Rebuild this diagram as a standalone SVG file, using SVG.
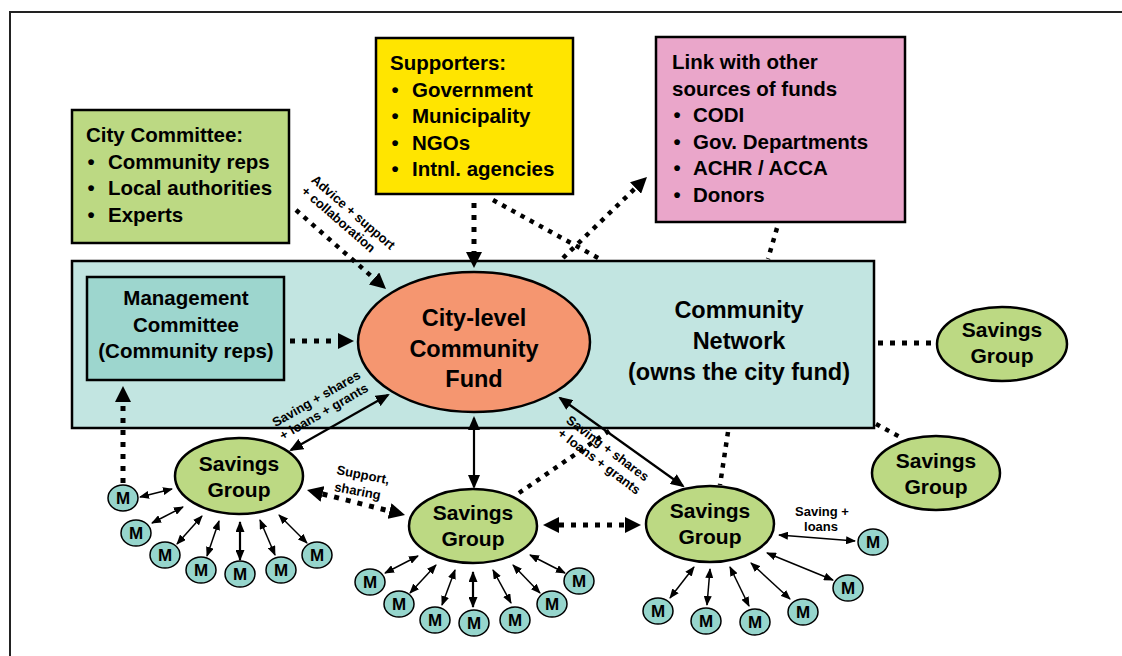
<svg xmlns="http://www.w3.org/2000/svg" width="1122" height="656" viewBox="0 0 1122 656">
<style>
text{font-family:"Liberation Sans",Arial,sans-serif;font-weight:bold;fill:#000}
.b{font-size:20.5px}
.sg{font-size:21px;text-anchor:middle}
.big{font-size:23.5px;text-anchor:middle}
.m{font-size:17px;text-anchor:middle}
.lb{font-size:13px}
.c{text-anchor:middle}
.bx{stroke:#000;stroke-width:2.5}
.green{fill:#bcd983}
.mm{fill:#96d5cc;stroke:#000;stroke-width:1.5}
.dot{fill:none;stroke:#000;stroke-width:5;stroke-dasharray:5 7}
.dot2{fill:none;stroke:#000;stroke-width:4.5;stroke-dasharray:4.5 6}
.sol{stroke:#000;stroke-width:2.2;fill:none}
.thin{stroke:#000;stroke-width:1.5;fill:none}
</style>
<defs>
<marker id="ad" viewBox="0 0 16 16" markerWidth="16" markerHeight="16" refX="0" refY="8" orient="auto-start-reverse" markerUnits="userSpaceOnUse"><path d="M0,0L16,8L0,16z"/></marker>
<marker id="as" viewBox="0 0 14 12" markerWidth="14" markerHeight="12" refX="12" refY="6" orient="auto-start-reverse" markerUnits="userSpaceOnUse"><path d="M0,0L14,6L0,12z"/></marker>
<marker id="am" viewBox="0 0 10 8" markerWidth="10" markerHeight="8" refX="9" refY="4" orient="auto-start-reverse" markerUnits="userSpaceOnUse"><path d="M0,0L10,4L0,8z"/></marker>
<marker id="am2" viewBox="0 0 11 9" markerWidth="11" markerHeight="9" refX="10" refY="4.5" orient="auto-start-reverse" markerUnits="userSpaceOnUse"><path d="M0,0L11,4.5L0,9z"/></marker>
</defs>
<rect width="1122" height="656" fill="#fff"/>
<path d="M10,656V12H1122" fill="none" stroke="#222" stroke-width="2"/>

<g id="community-network">
<rect x="72" y="261" width="802" height="167" fill="#c2e5e1" class="bx"/>
<text class="big" x="739" y="318">Community</text>
<text class="big" x="739" y="349">Network</text>
<text class="big" x="739" y="380">(owns the city fund)</text>
</g>

<g id="connectors">
<line class="dot2" x1="296" y1="210" x2="374" y2="278.5" marker-end="url(#ad)"/>
<line class="dot" x1="474" y1="203" x2="474" y2="252" marker-end="url(#ad)"/>
<line class="dot2" x1="493" y1="200" x2="600" y2="259"/>
<line class="dot2" x1="563" y1="258" x2="635.5" y2="188" marker-end="url(#ad)"/>
<line class="dot2" x1="777" y1="228" x2="768" y2="259"/>
<line class="dot" x1="290" y1="341" x2="338" y2="341" marker-end="url(#ad)"/>
<line class="dot" x1="123" y1="483" x2="123" y2="402" marker-end="url(#ad)"/>
<line class="dot" x1="878" y1="343" x2="936" y2="343"/>
<line class="dot2" x1="876" y1="424" x2="900" y2="437"/>
<line class="dot2" x1="728" y1="432" x2="720" y2="485"/>
<line class="dot2" x1="519" y1="493" x2="612" y2="429"/>
<line class="dot" x1="322.5" y1="494" x2="389.5" y2="511" marker-start="url(#ad)" marker-end="url(#ad)"/>
<line class="dot" x1="559" y1="525" x2="625" y2="525" marker-start="url(#ad)" marker-end="url(#ad)"/>
<line class="sol" x1="388" y1="395" x2="291" y2="450" marker-start="url(#as)" marker-end="url(#as)"/>
<line class="sol" x1="474" y1="418" x2="474" y2="487" marker-start="url(#as)" marker-end="url(#as)"/>
<line class="sol" x1="560" y1="398" x2="683" y2="486" marker-start="url(#as)" marker-end="url(#as)"/>
<line class="thin" x1="140" y1="497" x2="172" y2="489" marker-start="url(#am)" marker-end="url(#am)"/>
<line class="thin" x1="152" y1="523" x2="183" y2="507" marker-start="url(#am)" marker-end="url(#am)"/>
<line class="thin" x1="177" y1="544" x2="202" y2="516" marker-start="url(#am)" marker-end="url(#am)"/>
<line class="thin" x1="207" y1="556" x2="219" y2="521" marker-start="url(#am)" marker-end="url(#am)"/>
<line class="sol" x1="240" y1="560" x2="240" y2="522" marker-start="url(#am2)" marker-end="url(#am2)"/>
<line class="thin" x1="275" y1="555" x2="260" y2="520" marker-start="url(#am)" marker-end="url(#am)"/>
<line class="thin" x1="307" y1="543" x2="279" y2="515" marker-start="url(#am)" marker-end="url(#am)"/>
<line class="thin" x1="385" y1="573" x2="418" y2="556" marker-start="url(#am)" marker-end="url(#am)"/>
<line class="thin" x1="410" y1="593" x2="436" y2="565" marker-start="url(#am)" marker-end="url(#am)"/>
<line class="thin" x1="442" y1="605" x2="455" y2="570" marker-start="url(#am)" marker-end="url(#am)"/>
<line class="sol" x1="473" y1="607" x2="473" y2="572" marker-start="url(#am2)" marker-end="url(#am2)"/>
<line class="thin" x1="511" y1="603" x2="493" y2="570" marker-start="url(#am)" marker-end="url(#am)"/>
<line class="thin" x1="540" y1="593" x2="513" y2="565" marker-start="url(#am)" marker-end="url(#am)"/>
<line class="thin" x1="565" y1="573" x2="530" y2="555" marker-start="url(#am)" marker-end="url(#am)"/>
<line class="thin" x1="670" y1="598" x2="694" y2="567" marker-start="url(#am)" marker-end="url(#am)"/>
<line class="thin" x1="707" y1="605" x2="710" y2="569" marker-start="url(#am)" marker-end="url(#am)"/>
<line class="thin" x1="749" y1="606" x2="730" y2="567" marker-start="url(#am)" marker-end="url(#am)"/>
<line class="thin" x1="790" y1="599" x2="751" y2="563" marker-start="url(#am)" marker-end="url(#am)"/>
<line class="thin" x1="833" y1="580" x2="767" y2="553" marker-start="url(#am)" marker-end="url(#am)"/>
<line class="thin" x1="779" y1="535" x2="855" y2="541" marker-start="url(#am)" marker-end="url(#am)"/>
<text class="lb" transform="translate(310.4,181) rotate(41)"><tspan x="0" y="0">Advice + support</tspan><tspan x="0" y="15">+ collaboration</tspan></text>
<text class="lb c" transform="translate(318.5,402.5) rotate(-30)"><tspan x="0" y="0">Saving + shares</tspan><tspan x="0" y="15">+ loans + grants</tspan></text>
<text class="lb c" transform="translate(605,452) rotate(37)"><tspan x="0" y="0">Saving + shares</tspan><tspan x="1" y="15.5">+ loans + grants</tspan></text>
<text class="lb" transform="translate(336,474) rotate(11)"><tspan x="0" y="0">Support,</tspan><tspan x="1" y="17">sharing</tspan></text>
<text class="lb c" x="822" y="516">Saving +</text>
<text class="lb c" x="821" y="531">loans</text>
</g>

<g id="city-committee">
<rect x="72" y="110" width="217" height="133" class="bx green"/>
<text class="b" x="86" y="142">City Committee:</text>
<text class="b" x="87.4" y="168.5">•<tspan x="108">Community reps</tspan></text>
<text class="b" x="87.4" y="195">•<tspan x="108">Local authorities</tspan></text>
<text class="b" x="87.4" y="221.5">•<tspan x="108">Experts</tspan></text>
</g>

<g id="supporters">
<rect x="376" y="38" width="197" height="156" fill="#ffe500" class="bx"/>
<text class="b" x="390" y="70">Supporters:</text>
<text class="b" x="391.4" y="96.5">•<tspan x="412">Government</tspan></text>
<text class="b" x="391.4" y="123">•<tspan x="412">Municipality</tspan></text>
<text class="b" x="391.4" y="149.5">•<tspan x="412">NGOs</tspan></text>
<text class="b" x="391.4" y="176">•<tspan x="412">Intnl. agencies</tspan></text>
</g>

<g id="other-funds">
<rect x="656" y="37" width="249" height="185" fill="#eaa6ca" class="bx"/>
<text class="b" x="672" y="69">Link with other</text>
<text class="b" x="672" y="95.5">sources of funds</text>
<text class="b" x="673.4" y="122">•<tspan x="693">CODI</tspan></text>
<text class="b" x="673.4" y="148.5">•<tspan x="693">Gov. Departments</tspan></text>
<text class="b" x="673.4" y="175">•<tspan x="693">ACHR / ACCA</tspan></text>
<text class="b" x="673.4" y="201.5">•<tspan x="693">Donors</tspan></text>
</g>

<g id="management-committee">
<rect x="87" y="277" width="197" height="103" fill="#9dd6ce" class="bx"/>
<text class="b c" x="186" y="305">Management</text>
<text class="b c" x="186" y="331.5">Committee</text>
<text class="b c" x="186" y="358">(Community reps)</text>
</g>

<g id="city-fund">
<ellipse cx="474" cy="342" rx="116" ry="70" fill="#f59670" class="bx"/>
<text class="big" x="474" y="326">City-level</text>
<text class="big" x="474" y="357">Community</text>
<text class="big" x="474" y="387">Fund</text>
</g>

<g id="sg-right-top">
<ellipse cx="1002" cy="344" rx="65" ry="37" class="bx green"/>
<text class="sg" x="1002" y="337">Savings</text>
<text class="sg" x="1002" y="363">Group</text>
</g>
<g id="sg-right-lower">
<ellipse cx="936" cy="473" rx="64" ry="37" class="bx green"/>
<text class="sg" x="936" y="468">Savings</text>
<text class="sg" x="936" y="494">Group</text>
</g>
<g id="sg-left">
<ellipse cx="239" cy="476" rx="64" ry="38" class="bx green"/>
<text class="sg" x="239" y="471">Savings</text>
<text class="sg" x="239" y="497">Group</text>
</g>
<g id="sg-middle">
<ellipse cx="473" cy="526" rx="64" ry="37" class="bx green"/>
<text class="sg" x="473" y="519.5">Savings</text>
<text class="sg" x="473" y="546">Group</text>
</g>
<g id="sg-right">
<ellipse cx="710" cy="524" rx="64" ry="38" class="bx green"/>
<text class="sg" x="710" y="518">Savings</text>
<text class="sg" x="710" y="544">Group</text>
</g>

<g id="members-left">
<ellipse class="mm" cx="123" cy="498" rx="15" ry="13"/><text class="m" x="123" y="504">M</text>
<ellipse class="mm" cx="136" cy="533" rx="15" ry="13"/><text class="m" x="136" y="539">M</text>
<ellipse class="mm" cx="165" cy="555" rx="15" ry="13"/><text class="m" x="165" y="561">M</text>
<ellipse class="mm" cx="201" cy="570" rx="15" ry="13"/><text class="m" x="201" y="576">M</text>
<ellipse class="mm" cx="240" cy="574" rx="15" ry="13"/><text class="m" x="240" y="580">M</text>
<ellipse class="mm" cx="281" cy="570" rx="15" ry="13"/><text class="m" x="281" y="576">M</text>
<ellipse class="mm" cx="317" cy="555" rx="15" ry="13"/><text class="m" x="317" y="561">M</text>
</g>
<g id="members-middle">
<ellipse class="mm" cx="370" cy="582" rx="15" ry="13"/><text class="m" x="370" y="588">M</text>
<ellipse class="mm" cx="399" cy="604" rx="15" ry="13"/><text class="m" x="399" y="610">M</text>
<ellipse class="mm" cx="435" cy="620" rx="15" ry="13"/><text class="m" x="435" y="626">M</text>
<ellipse class="mm" cx="474" cy="623" rx="15" ry="13"/><text class="m" x="474" y="629">M</text>
<ellipse class="mm" cx="515" cy="620" rx="15" ry="13"/><text class="m" x="515" y="626">M</text>
<ellipse class="mm" cx="552" cy="604" rx="15" ry="13"/><text class="m" x="552" y="610">M</text>
<ellipse class="mm" cx="579" cy="581" rx="15" ry="13"/><text class="m" x="579" y="587">M</text>
</g>
<g id="members-right">
<ellipse class="mm" cx="658" cy="611" rx="15" ry="13"/><text class="m" x="658" y="617">M</text>
<ellipse class="mm" cx="706" cy="621" rx="15" ry="13"/><text class="m" x="706" y="627">M</text>
<ellipse class="mm" cx="755" cy="622" rx="15" ry="13"/><text class="m" x="755" y="628">M</text>
<ellipse class="mm" cx="803" cy="612" rx="15" ry="13"/><text class="m" x="803" y="618">M</text>
<ellipse class="mm" cx="848" cy="588" rx="15" ry="13"/><text class="m" x="848" y="594">M</text>
<ellipse class="mm" cx="873" cy="542" rx="15" ry="13"/><text class="m" x="873" y="548">M</text>
</g>
</svg>
